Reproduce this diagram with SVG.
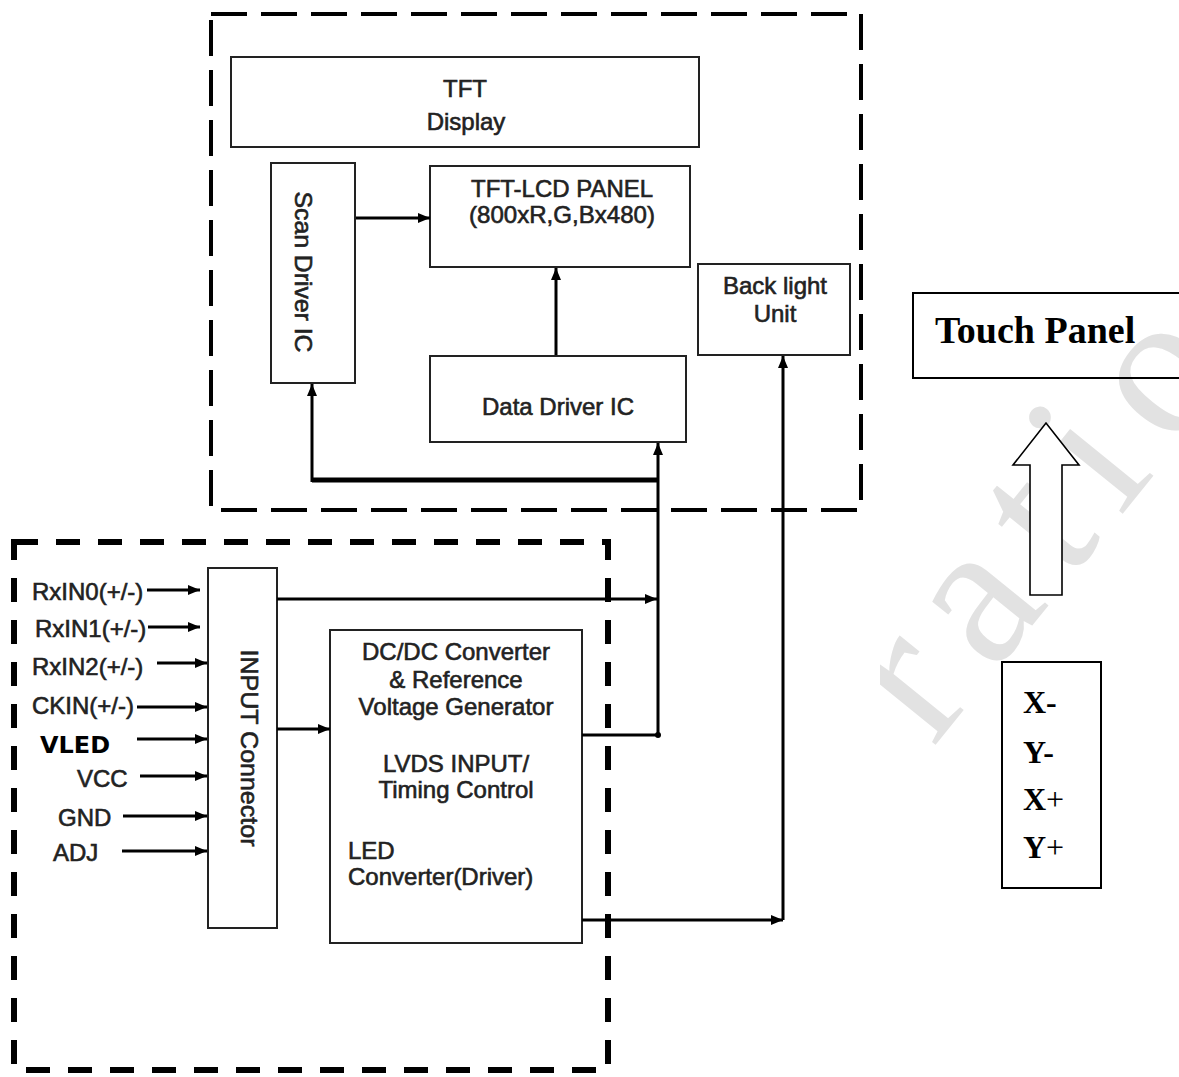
<svg xmlns="http://www.w3.org/2000/svg" width="1179" height="1077" viewBox="0 0 1179 1077">
<defs>
<marker id="ah" markerUnits="userSpaceOnUse" markerWidth="12" markerHeight="10" refX="12" refY="5" orient="auto">
<path d="M0,0 L12,5 L0,10 z" fill="#000"/>
</marker>
<clipPath id="wmclip"><rect x="880" y="0" width="299" height="1077"/></clipPath>
</defs>
<style>
.box{fill:none;stroke:#222;stroke-width:2}
.t{font-family:"Liberation Sans",Arial,sans-serif;font-size:24px;fill:#222;stroke:#222;stroke-width:0.6}
.c{text-anchor:middle}
.w{fill:none;stroke:#000;stroke-width:3}
.bus{fill:none;stroke:#000;stroke-width:5}
.tp{font-family:"Liberation Serif","Times New Roman",serif;font-weight:bold;fill:#000}
</style>
<rect width="1179" height="1077" fill="#fff"/>
<g id="watermark" clip-path="url(#wmclip)">
<text x="0" y="0" transform="translate(933,748) rotate(-51)" font-family="Liberation Serif, serif" font-size="205" letter-spacing="27" fill="#e2e2e2">ratio</text>
</g>
<g id="frame-top"><rect x="211" y="14" width="650" height="496" fill="none" stroke="#000" stroke-width="4" stroke-dasharray="36 14"/></g>
<g id="frame-bottom"><rect x="14" y="542" width="594" height="528" fill="none" stroke="#000" stroke-width="6" stroke-dasharray="24 18"/></g>

<g id="tft-display"><rect class="box" x="231" y="57" width="468" height="90"/>
<text class="t c" x="465" y="97">TFT</text>
<text class="t c" x="466" y="130" font-size="25">Display</text></g>

<g id="scan-driver"><rect class="box" x="271" y="163" width="84" height="220"/>
<text class="t c" transform="translate(295,272) rotate(90)" font-size="28" textLength="161" lengthAdjust="spacingAndGlyphs">Scan Driver IC</text></g>

<g id="tft-lcd-panel"><rect class="box" x="430" y="166" width="260" height="101"/>
<text class="t c" x="562" y="197" font-size="26" textLength="182" lengthAdjust="spacingAndGlyphs">TFT-LCD PANEL</text>
<text class="t c" x="562" y="223" font-size="26" textLength="186" lengthAdjust="spacingAndGlyphs">(800xR,G,Bx480)</text></g>

<g id="backlight"><rect class="box" x="698" y="264" width="152" height="91"/>
<text class="t c" x="775" y="294" font-size="26">Back light</text>
<text class="t c" x="775" y="322" font-size="26">Unit</text></g>

<g id="data-driver"><rect class="box" x="430" y="356" width="256" height="86"/>
<text class="t c" x="558" y="415" font-size="25">Data Driver IC</text></g>

<g id="input-connector"><rect class="box" x="208" y="568" width="69" height="360"/>
<text class="t c" transform="translate(241,748) rotate(90)" font-size="28" stroke-width="1" textLength="197" lengthAdjust="spacingAndGlyphs">INPUT Connector</text></g>

<g id="dcdc"><rect class="box" x="330" y="630" width="252" height="313"/>
<text class="t c" x="456" y="660">DC/DC Converter</text>
<text class="t c" x="456" y="688">&amp; Reference</text>
<text class="t c" x="456" y="715">Voltage Generator</text>
<text class="t c" x="456" y="772">LVDS INPUT/</text>
<text class="t c" x="456" y="798">Timing Control</text>
<text class="t" x="348" y="859">LED</text>
<text class="t" x="348" y="885">Converter(Driver)</text></g>

<g id="inputs">
<text class="t" x="32" y="600">RxIN0(+/-)</text>
<text class="t" x="35" y="637">RxIN1(+/-)</text>
<text class="t" x="32" y="675">RxIN2(+/-)</text>
<text class="t" x="32" y="714">CKIN(+/-)</text>
<text x="40" y="753" font-family="DejaVu Sans,Verdana,sans-serif" font-weight="bold" font-size="23" textLength="70" lengthAdjust="spacingAndGlyphs" fill="#000">VLED</text>
<text class="t" x="77" y="787">VCC</text>
<text class="t" x="58" y="826">GND</text>
<text class="t" x="53" y="861">ADJ</text>
</g>

<g id="touch-panel"><rect x="913" y="293" width="280" height="85" fill="none" stroke="#000" stroke-width="2"/>
<text class="tp" x="935" y="343" font-size="38">Touch Panel</text></g>

<g id="touch-arrow"><path d="M1030,595 V465 H1013 L1046,423 L1079,465 H1062 V595 Z" fill="#fff" stroke="#000" stroke-width="1.6"/></g>

<g id="touch-pins"><rect x="1002" y="662" width="99" height="226" fill="none" stroke="#000" stroke-width="2"/>
<text class="tp" x="1023" y="713" font-size="32">X-</text>
<text class="tp" x="1023" y="763" font-size="32">Y-</text>
<text class="tp" x="1023" y="810" font-size="32">X<tspan font-weight="normal">+</tspan></text>
<text class="tp" x="1023" y="858" font-size="32">Y<tspan font-weight="normal">+</tspan></text></g>

<g id="connectors">
<line class="w" x1="147" y1="590" x2="200" y2="590" marker-end="url(#ah)"/>
<line class="w" x1="148" y1="627" x2="200" y2="627" marker-end="url(#ah)"/>
<line class="w" x1="157" y1="663" x2="207" y2="663" marker-end="url(#ah)"/>
<line class="w" x1="137" y1="707" x2="207" y2="707" marker-end="url(#ah)"/>
<line class="w" x1="137" y1="739" x2="207" y2="739" marker-end="url(#ah)"/>
<line class="w" x1="140" y1="776" x2="207" y2="776" marker-end="url(#ah)"/>
<line class="w" x1="123" y1="816" x2="207" y2="816" marker-end="url(#ah)"/>
<line class="w" x1="122" y1="851" x2="207" y2="851" marker-end="url(#ah)"/>
<line class="w" x1="277" y1="729" x2="330" y2="729" marker-end="url(#ah)"/>
<line class="w" x1="277" y1="599" x2="657" y2="599" marker-end="url(#ah)"/>
<line class="w" x1="582" y1="735" x2="658" y2="735"/>
<circle cx="658" cy="735" r="3" fill="#000"/>
<line class="w" x1="658" y1="735" x2="658" y2="443" marker-end="url(#ah)"/>
<line class="bus" x1="312" y1="480" x2="658" y2="480"/>
<line class="w" x1="312" y1="482" x2="312" y2="384" marker-end="url(#ah)"/>
<line class="w" x1="582" y1="920" x2="783" y2="920" marker-end="url(#ah)"/>
<line class="w" x1="783" y1="920" x2="783" y2="356" marker-end="url(#ah)"/>
<line class="w" x1="356" y1="218" x2="430" y2="218" marker-end="url(#ah)"/>
<line class="w" x1="556" y1="355" x2="556" y2="268" marker-end="url(#ah)"/>
</g>
</svg>
